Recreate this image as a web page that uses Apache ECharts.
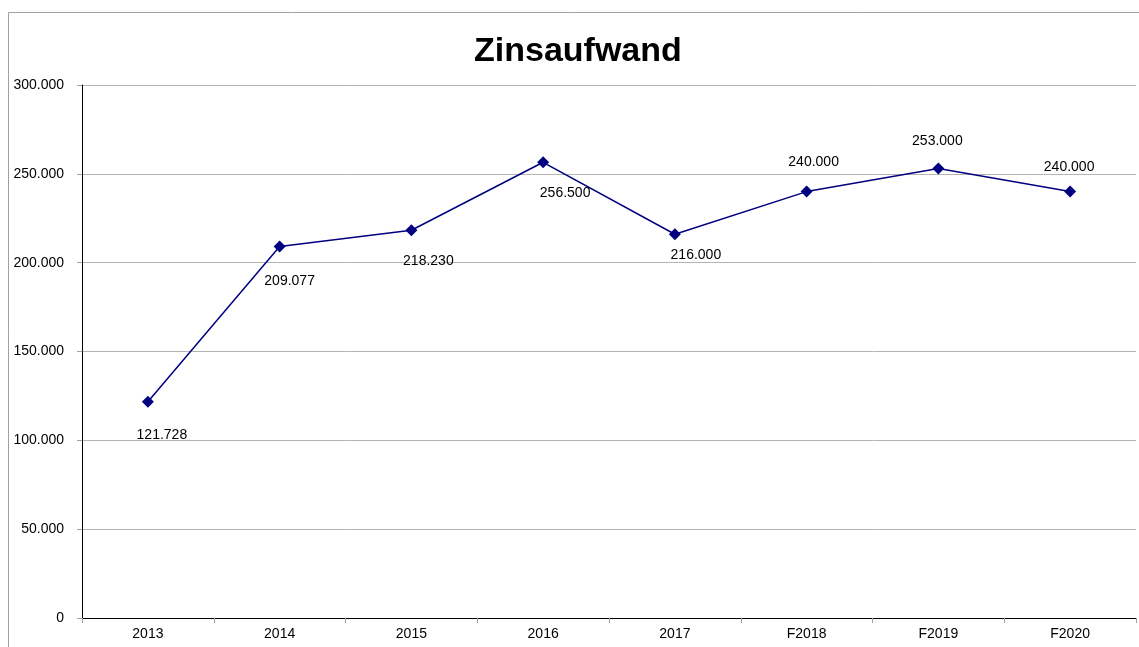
<!DOCTYPE html>
<html>
<head>
<meta charset="utf-8">
<script src="https://cdn.jsdelivr.net/npm/echarts@6/dist/echarts.min.js"></script>
<style>
  html, body { margin: 0; padding: 0; background: #fff; }
  #chart { width: 1139px; height: 647px; }
</style>
</head>
<body>
<div id="chart"></div>
<script>
var categories = ['2013', '2014', '2015', '2016', '2017', 'F2018', 'F2019', 'F2020'];
var values = [121728, 209077, 218230, 256500, 216000, 240000, 253000, 240000];
// label offset from the point, in px (labels were placed by hand in the original)
var labelOffsets = [[14, 33], [10, 35], [17, 31], [22, 31], [21, 21], [7, -29], [-1, -27], [-1, -24]];

function fmt(v) {
  var s = String(Math.round(v));
  return s.replace(/\B(?=(\d{3})+(?!\d))/g, '.');
}

var seriesData = values.map(function (v, i) {
  return {
    value: v,
    label: { position: 'inside', offset: labelOffsets[i] }
  };
});

var myChart = echarts.init(document.getElementById('chart'));
var option = {
  animation: false,
  title: {
    text: 'Zinsaufwand',
    left: 469,
    top: 30,
    textStyle: { fontFamily: 'Arial', fontSize: 34, fontWeight: 'bold', color: '#000' }
  },
  graphic: [{
    type: 'rect',
    shape: { x: 8.5, y: 12.5, width: 1200, height: 700 },
    style: { fill: 'none', stroke: '#a0a0a0', lineWidth: 1 },
    silent: true,
    z: -1
  }],
  grid: { left: 82, right: 3, top: 85, bottom: 29 },
  xAxis: {
    type: 'category',
    data: categories,
    boundaryGap: true,
    axisLine: { lineStyle: { color: '#000', width: 1 } },
    axisTick: { show: true, length: 5, lineStyle: { color: '#a0a0a0' } },
    axisLabel: { color: '#000', fontFamily: 'Arial', fontSize: 14, margin: 9 },
    splitLine: { show: false }
  },
  yAxis: {
    type: 'value',
    min: 0,
    max: 300000,
    interval: 50000,
    axisLine: { show: true, lineStyle: { color: '#000', width: 1 } },
    axisTick: { show: true, length: 5, lineStyle: { color: '#a0a0a0' } },
    axisLabel: {
      color: '#000', fontFamily: 'Arial', fontSize: 14, margin: 18,
      formatter: function (v) { return fmt(v); }
    },
    splitLine: { show: true, lineStyle: { color: '#b4b4b4', width: 1 } }
  },
  series: [{
    type: 'line',
    data: seriesData,
    symbol: 'diamond',
    symbolSize: 12,
    itemStyle: { color: '#000080' },
    lineStyle: { color: '#000080', width: 1.5 },
    label: {
      show: true,
      color: '#000',
      fontFamily: 'Arial',
      fontSize: 14,
      formatter: function (p) { return fmt(p.value); }
    }
  }]
};
myChart.setOption(option);
</script>
</body>
</html>
